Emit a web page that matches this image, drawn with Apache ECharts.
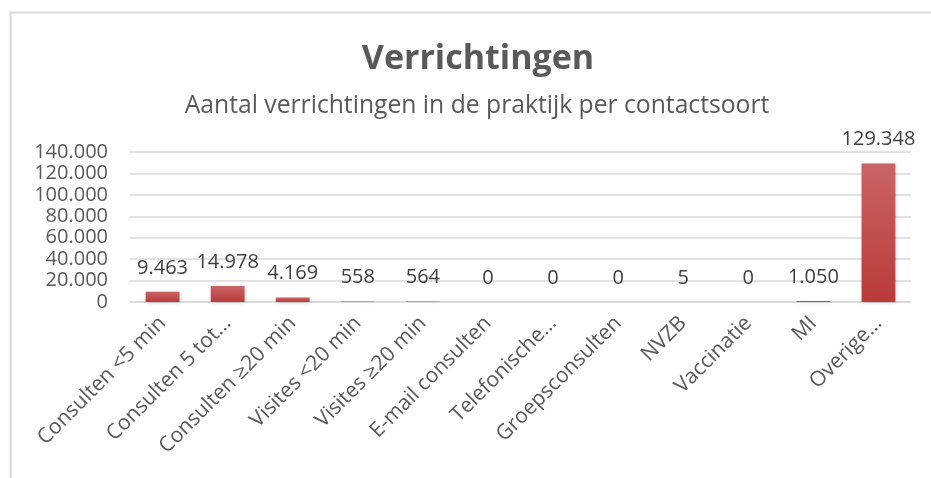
<!DOCTYPE html>
<html>
<head>
<meta charset="utf-8">
<script src="https://cdn.jsdelivr.net/npm/echarts@6/dist/echarts.min.js"></script>
<style>
  html, body { margin: 0; padding: 0; background: #fff; }
  #chart { width: 931px; height: 478px; }
</style>
</head>
<body>
<div id="chart"></div>
<script>
// categories as shown on the axis (long names are cut off in the original)
const categories = [
  'Consulten <5 min', 'Consulten 5 tot…', 'Consulten ≥20 min', 'Visites <20 min',
  'Visites ≥20 min', 'E-mail consulten', 'Telefonische…', 'Groepsconsulten',
  'NVZB', 'Vaccinatie', 'MI', 'Overige…'
];
const aantallen = [9463, 14978, 4169, 558, 564, 0, 0, 0, 5, 0, 1050, 129348];
const yTicks = [0, 20000, 40000, 60000, 80000, 100000, 120000, 140000];

const fmt = (v) => String(v).replace(/\B(?=(\d{3})+(?!\d))/g, '.');
const font = '"Open Sans", "Noto Sans", sans-serif';

const myChart = echarts.init(document.getElementById('chart'));
const option = {
  animation: false,
  textStyle: {fontFamily: font},
  title: [
    {
      text: 'Verrichtingen',
      left: 473,
      textAlign: 'center',
      top: 37,
      textStyle: {fontSize: 34, fontWeight: 'bold', color: '#595959', fontFamily: font}
    },
    {
      text: 'Aantal verrichtingen in de praktijk per contactsoort',
      left: 472,
      textAlign: 'center',
      top: 88,
      textStyle: {fontSize: 24.7, fontWeight: 'normal', color: '#595959', fontFamily: font}
    }
  ],
  graphic: [
    {
      type: 'rect',
      shape: {x: 10.5, y: 12.5, width: 1000, height: 1000},
      style: {fill: 'none', stroke: '#d9d9d9', lineWidth: 2},
      silent: true
    }
  ],
  grid: {left: 130, right: 20, top: 152, bottom: 176, outerBoundsMode: 'none'},
  xAxis: {
    type: 'category',
    data: categories,
    axisTick: {show: false},
    axisLine: {lineStyle: {color: '#d9d9d9', width: 1.5}},
    axisLabel: {interval: 0, rotate: 45, margin: 18, fontSize: 21, color: '#595959', fontFamily: font}
  },
  yAxis: {
    type: 'value',
    min: yTicks[0],
    max: yTicks[yTicks.length - 1],
    interval: yTicks[1] - yTicks[0],
    axisLine: {show: false},
    axisTick: {show: false},
    splitLine: {lineStyle: {color: '#d9d9d9', width: 1.5}},
    axisLabel: {fontSize: 20, color: '#595959', margin: 22, fontFamily: font, formatter: fmt}
  },
  series: [
    {
      type: 'bar',
      data: aantallen,
      barWidth: '52%',
      itemStyle: {
        color: new echarts.graphic.LinearGradient(0, 0, 0, 1, [
          {offset: 0, color: '#c96565'},
          {offset: 1, color: '#b93a3a'}
        ]),
        shadowBlur: 4,
        shadowColor: 'rgba(0,0,0,0.15)',
        shadowOffsetX: 1,
        shadowOffsetY: 1
      },
      label: {
        show: true,
        position: 'top',
        distance: 14,
        fontSize: 20,
        color: '#404040',
        fontFamily: font,
        formatter: (p) => fmt(p.value)
      }
    }
  ]
};
myChart.setOption(option);
</script>
</body>
</html>
